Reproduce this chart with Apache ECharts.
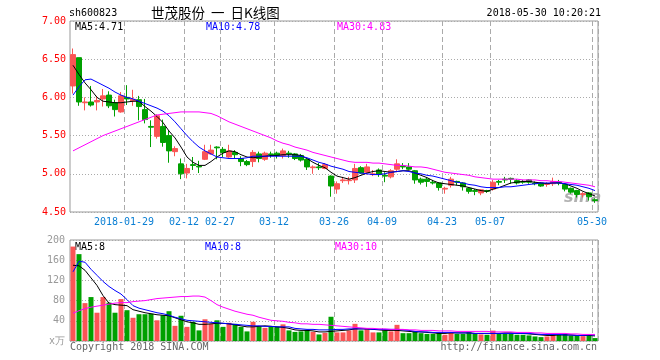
<!DOCTYPE html>
<html><head><meta charset="utf-8">
<script src="https://cdn.jsdelivr.net/npm/echarts@6/dist/echarts.min.js"></script>
<style>html,body{margin:0;padding:0;background:#fff}#c{width:660px;height:360px}</style>
</head><body><div id="c"></div>
<script>
const dates = ['2018-01-16','2018-01-17','2018-01-18','2018-01-19','2018-01-22','2018-01-23','2018-01-24','2018-01-25','2018-01-26','2018-01-29','2018-01-30','2018-01-31','2018-02-01','2018-02-02','2018-02-05','2018-02-06','2018-02-07','2018-02-08','2018-02-09','2018-02-12','2018-02-13','2018-02-14','2018-02-22','2018-02-23','2018-02-26','2018-02-27','2018-02-28','2018-03-01','2018-03-02','2018-03-05','2018-03-06','2018-03-07','2018-03-08','2018-03-09','2018-03-12','2018-03-13','2018-03-14','2018-03-15','2018-03-16','2018-03-19','2018-03-20','2018-03-21','2018-03-22','2018-03-23','2018-03-26','2018-03-27','2018-03-28','2018-03-29','2018-03-30','2018-04-02','2018-04-03','2018-04-04','2018-04-09','2018-04-10','2018-04-11','2018-04-12','2018-04-13','2018-04-16','2018-04-17','2018-04-18','2018-04-19','2018-04-20','2018-04-23','2018-04-24','2018-04-25','2018-04-26','2018-04-27','2018-05-02','2018-05-03','2018-05-04','2018-05-07','2018-05-08','2018-05-09','2018-05-10','2018-05-11','2018-05-14','2018-05-15','2018-05-16','2018-05-17','2018-05-18','2018-05-21','2018-05-22','2018-05-23','2018-05-24','2018-05-25','2018-05-28','2018-05-29','2018-05-30'];
const labelDates = ['2018-01-29','2018-02-12','2018-02-27','2018-03-12','2018-03-26','2018-04-09','2018-04-23','2018-05-07','2018-05-30'];
const labelTexts = ['2018-01-29','02-12','02-27','03-12','03-26','04-09','04-23','05-07','05-30'];

const open  = [6.15,6.52,5.93,5.94,5.94,5.98,6.03,5.93,5.81,6.00,5.955,5.97,5.84,5.62,5.49,5.62,5.50,5.29,5.13,5.01,5.12,5.10,5.19,5.26,5.35,5.32,5.22,5.28,5.20,5.16,5.16,5.26,5.19,5.26,5.27,5.24,5.27,5.26,5.24,5.19,5.08,5.09,5.07,4.97,4.80,4.91,4.91,4.92,5.08,5.02,4.99,5.05,4.98,4.96,5.06,5.10,5.09,5.04,4.93,4.93,4.89,4.88,4.80,4.85,4.90,4.88,4.81,4.78,4.75,4.78,4.80,4.90,4.93,4.94,4.91,4.90,4.92,4.88,4.88,4.86,4.87,4.89,4.86,4.81,4.78,4.73,4.75,4.66];
const close = [6.56,5.94,5.94,5.90,5.96,6.02,5.89,5.84,6.02,5.98,5.975,5.88,5.71,5.61,5.76,5.41,5.30,5.33,5.00,5.07,5.11,5.09,5.29,5.31,5.34,5.28,5.30,5.25,5.16,5.12,5.28,5.20,5.27,5.25,5.24,5.30,5.26,5.20,5.18,5.09,5.09,5.08,5.12,4.84,4.87,4.92,4.92,5.07,5.01,5.09,5.00,4.99,4.97,5.04,5.13,5.09,5.06,4.92,4.89,4.90,4.88,4.82,4.81,4.93,4.89,4.83,4.77,4.77,4.79,4.77,4.89,4.89,4.92,4.93,4.88,4.89,4.89,4.87,4.84,4.87,4.90,4.88,4.80,4.76,4.73,4.74,4.70,4.65];
const high  = [6.64,6.52,6.00,6.15,6.02,6.11,6.08,5.97,6.07,6.16,6.10,6.02,5.98,5.70,5.78,5.71,5.57,5.36,5.20,5.13,5.22,5.17,5.38,5.38,5.36,5.35,5.38,5.31,5.23,5.18,5.31,5.29,5.29,5.29,5.29,5.33,5.30,5.27,5.26,5.20,5.11,5.14,5.14,4.98,4.90,4.96,4.96,5.13,5.10,5.13,5.05,5.07,5.02,5.06,5.19,5.14,5.14,5.05,4.95,4.95,4.92,4.89,4.83,4.96,4.91,4.89,4.82,4.80,4.80,4.79,4.92,4.92,4.96,4.95,4.93,4.92,4.93,4.90,4.89,4.89,4.95,4.92,4.87,4.82,4.79,4.76,4.76,4.68];
const low   = [6.05,5.89,5.83,5.88,5.83,5.88,5.86,5.75,5.80,5.90,5.89,5.70,5.66,5.35,5.46,5.355,5.145,5.23,4.93,4.94,5.05,5.01,5.18,5.25,5.19,5.22,5.21,5.20,5.10,5.10,5.09,5.15,5.17,5.21,5.20,5.20,5.21,5.18,5.16,5.05,5.00,5.05,5.06,4.70,4.74,4.88,4.86,4.88,5.00,4.99,4.97,4.96,4.89,4.94,5.02,5.06,5.05,4.87,4.86,4.83,4.86,4.78,4.74,4.82,4.85,4.78,4.74,4.72,4.72,4.75,4.78,4.85,4.88,4.87,4.86,4.87,4.87,4.85,4.83,4.83,4.84,4.85,4.77,4.74,4.69,4.69,4.65,4.62];

const ma5  = [6.42,6.30,6.19,6.10,6.00,5.95,5.94,5.93,5.93,5.94,5.95,5.95,5.88,5.82,5.75,5.67,5.56,5.47,5.35,5.22,5.15,5.11,5.11,5.16,5.22,5.27,5.30,5.29,5.25,5.22,5.21,5.22,5.23,5.24,5.24,5.25,5.25,5.25,5.24,5.20,5.15,5.11,5.08,5.02,4.97,4.95,4.93,4.95,4.98,5.01,5.03,5.04,5.03,5.02,5.03,5.04,5.04,5.01,4.98,4.95,4.91,4.88,4.87,4.86,4.85,4.84,4.82,4.80,4.78,4.77,4.80,4.82,4.85,4.88,4.89,4.90,4.90,4.89,4.88,4.87,4.88,4.88,4.87,4.84,4.81,4.77,4.74,4.71];
const ma10 = [6.03,6.14,6.23,6.24,6.20,6.16,6.12,6.07,6.03,6.00,5.98,5.95,5.92,5.89,5.86,5.82,5.76,5.68,5.59,5.50,5.42,5.35,5.30,5.26,5.22,5.21,5.20,5.20,5.20,5.21,5.23,5.23,5.23,5.23,5.23,5.23,5.23,5.23,5.23,5.21,5.18,5.15,5.13,5.10,5.08,5.06,5.03,5.02,5.01,5.00,4.99,4.99,5.00,5.02,5.03,5.04,5.03,5.01,5.00,4.98,4.97,4.95,4.93,4.91,4.89,4.88,4.86,4.85,4.83,4.82,4.82,4.82,4.83,4.83,4.84,4.85,4.86,4.87,4.88,4.88,4.88,4.88,4.87,4.86,4.85,4.83,4.81,4.78];
const ma30 = [5.30,5.34,5.38,5.42,5.46,5.50,5.53,5.56,5.59,5.62,5.65,5.68,5.71,5.74,5.77,5.78,5.79,5.80,5.81,5.81,5.81,5.81,5.80,5.79,5.76,5.72,5.68,5.65,5.62,5.59,5.56,5.53,5.50,5.47,5.43,5.40,5.38,5.35,5.33,5.31,5.28,5.26,5.24,5.22,5.20,5.18,5.16,5.15,5.15,5.15,5.14,5.14,5.13,5.12,5.11,5.11,5.10,5.09,5.09,5.08,5.06,5.04,5.02,5.01,5.00,4.99,4.98,4.96,4.95,4.94,4.93,4.93,4.93,4.93,4.93,4.92,4.92,4.92,4.91,4.91,4.90,4.90,4.89,4.88,4.87,4.86,4.85,4.83];

const volume = [187,172,75,87,56,87,76,56,83,61,46,53,53,54,41,51,59,30,50,28,38,21,43,34,41,28,36,34,28,19,38,29,26,28,28,33,21,18,19,22,18,13,16,48,17,17,21,34,21,24,17,17,21,19,32,15.5,15.5,18.7,15.5,14,14,16,12.3,16,14,14,17.4,14,13,12.3,20.6,14,14,14,12.3,12.3,11,9,7.7,9,12.3,12.3,14,11,11,9.7,11,5.8];
const vma5  = [150,149,140,125,110,90,75,72,71,70,62,59,56,54,52,51,50,46,42,38,36,33,33,34,35,35,34,32,30,28,28,29,30,29,28,27,25,22,21,21,20,18,18,19,20,21,22,24,24,24,23,22,21,21,21,20,19,18,18,17,16,15,15,16,16,16,16,15,15,15,15,15,16,16,15,15,14,13,12,11,11,12,12,12,11,11,11,10];
const vma10 = [137,158,156,142,130,118,108,100,93,82,70,65,62,59,56,54,51,47,44,41,40,39,38,37,36,35,34,33,32,31,30,30,29,29,28,28,28,25,24,23,23,22,22,22,23,23,24,24,24,24,23,23,23,23,23,22,21,19,18,18,17,17,17,17,16,16,16,15,15,15,15,15,15,15,15,15,15,14,13,13,13,13,12,12,11,11,12,12];
const vma30 = [55,60,64,67,69,71,73,75,76,76,78,79,80,82,84,85,86,87,88,88,89,89,87,80,72,67,63,59,56,53,51,47,44,41,40,39,37,36,34,34,33,33,32,31,30,29,28,27,26,25,25,24,24,23,23,23,22,22,21,21,21,20,20,20,19,19,19,19,19,19,18,18,18,18,17,17,17,16,16,15,15,15,15,14,14,13,13,13];
const volMaLabels = ['MA5:8','MA10:8','MA30:10'];

const RED = '#fa5555', GREEN = '#00a000';
const MONO = '"DejaVu Sans Mono", monospace';
const isLabel = (i, v) => labelDates.indexOf(v) >= 0;

const chart = echarts.init(document.getElementById('c'), null, {renderer: 'canvas'});
const last = a => a[a.length - 1];

function xAxisCfg(idx, showLabel) {
  return {
    type: 'category', gridIndex: idx, data: dates, boundaryGap: true,
    axisLine: {show: false}, axisTick: {show: false},
    axisLabel: showLabel ? {
      show: true, interval: isLabel, color: '#0a7fd4', fontFamily: MONO, fontSize: 10, margin: 5,
      padding: [0, 6, 0, 0],
      formatter: v => labelTexts[labelDates.indexOf(v)]
    } : {show: false},
    splitLine: {show: true, interval: isLabel, lineStyle: {color: '#aaa', type: [5, 3], width: 1}}
  };
}

const txt = (x, y, text, fill, font, align) => ({
  type: 'text', x: x, y: y, silent: true,
  style: {text: text, fill: fill, font: font, align: align || 'left', verticalAlign: 'middle'}
});

chart.setOption({
  animation: false,
  backgroundColor: '#fff',
  grid: [
    {left: 70, top: 21, width: 528, height: 191, show: true, borderColor: '#999', borderWidth: 1, backgroundColor: 'transparent'},
    {left: 70, top: 240, width: 528, height: 101, show: true, borderColor: '#999', borderWidth: 1, backgroundColor: 'transparent'}
  ],
  xAxis: [xAxisCfg(0, true), xAxisCfg(1, false)],
  yAxis: [
    {type: 'value', gridIndex: 0, min: 4.5, max: 7, interval: 0.5, scale: true,
     axisLine: {show: false}, axisTick: {show: false},
     axisLabel: {color: '#ff0000', fontFamily: MONO, fontSize: 10, margin: 4, formatter: v => v.toFixed(2)},
     splitLine: {show: true, lineStyle: {color: '#aaa', type: [1, 2]}}},
    {type: 'value', gridIndex: 1, min: 0, max: 200, interval: 40,
     axisLine: {show: false}, axisTick: {show: false},
     axisLabel: {color: '#999', fontFamily: MONO, fontSize: 10, margin: 5, formatter: v => v === 0 ? 'x万' : String(v)},
     splitLine: {show: true, lineStyle: {color: '#aaa', type: [1, 2]}}}
  ],
  series: [
    {type: 'candlestick', xAxisIndex: 0, yAxisIndex: 0, barWidth: 5, silent: true,
     data: dates.map((d, i) => [open[i], close[i], low[i], high[i]]),
     itemStyle: {color: RED, color0: GREEN, borderColor: RED, borderColor0: GREEN, borderWidth: 1}},
    {type: 'line', xAxisIndex: 0, yAxisIndex: 0, data: ma5, symbol: 'none', silent: true, lineStyle: {color: '#000', width: 1}},
    {type: 'line', xAxisIndex: 0, yAxisIndex: 0, data: ma10, symbol: 'none', silent: true, lineStyle: {color: '#0000ff', width: 1}},
    {type: 'line', xAxisIndex: 0, yAxisIndex: 0, data: ma30, symbol: 'none', silent: true, lineStyle: {color: '#ff00ff', width: 1}},
    {type: 'bar', xAxisIndex: 1, yAxisIndex: 1, barWidth: 5, silent: true,
     data: volume.map((v, i) => ({value: v, itemStyle: {color: close[i] >= open[i] ? RED : GREEN}}))},
    {type: 'line', xAxisIndex: 1, yAxisIndex: 1, data: vma5, symbol: 'none', silent: true, lineStyle: {color: '#000', width: 1}},
    {type: 'line', xAxisIndex: 1, yAxisIndex: 1, data: vma10, symbol: 'none', silent: true, lineStyle: {color: '#0000ff', width: 1}},
    {type: 'line', xAxisIndex: 1, yAxisIndex: 1, data: vma30, symbol: 'none', silent: true, lineStyle: {color: '#ff00ff', width: 1}}
  ],
  graphic: [
    txt(69, 13, 'sh600823', '#000', '10px ' + MONO),
    txt(151, 13, '世茂股份  一  日K线图', '#000', '13.5px "Noto Sans CJK SC"'),
    txt(601, 13, '2018-05-30 10:20:21', '#000', '10px ' + MONO, 'right'),
    txt(75, 27, 'MA5:' + last(ma5).toFixed(2), '#000', '10px ' + MONO),
    txt(206, 27, 'MA10:' + last(ma10).toFixed(2), '#0000ff', '10px ' + MONO),
    txt(337, 27, 'MA30:' + last(ma30).toFixed(2), '#ff00ff', '10px ' + MONO),
    txt(75, 247, volMaLabels[0], '#000', '10px ' + MONO),
    txt(205, 247, volMaLabels[1], '#0000ff', '10px ' + MONO),
    txt(335, 247, volMaLabels[2], '#ff00ff', '10px ' + MONO),
    txt(70, 347, 'Copyright 2018 SINA.COM', '#666', '10px ' + MONO),
    txt(597, 347, 'http://finance.sina.com.cn', '#666', '10px ' + MONO, 'right'),
    txt(564, 198, 'sina', 'rgba(150,150,150,0.75)', 'italic bold 16px "DejaVu Sans"')
  ]
});
</script>
</body></html>
